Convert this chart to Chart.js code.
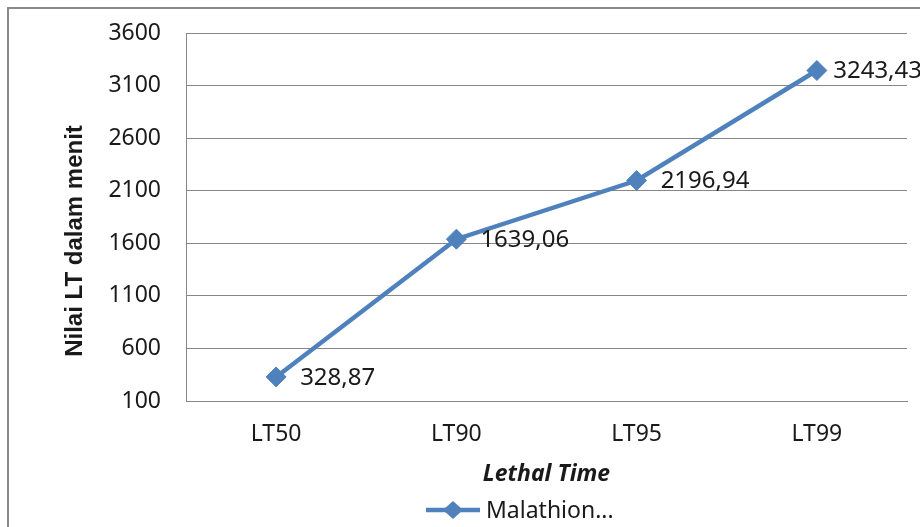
<!DOCTYPE html>
<html>
<head>
<meta charset="utf-8">
<script src="https://cdn.jsdelivr.net/npm/chart.js@4"></script>
<style>
  body { margin: 0; background: #fff; overflow: hidden; }
  #frame {
    position: absolute; left: 7px; top: 7px;
    width: 1000px; height: 600px;
    border: 2px solid #8a8a8a;
  }
  #wrap { position: absolute; left: 0; top: 0; width: 920px; height: 527px; }
</style>
</head>
<body>
<div id="frame"></div>
<div id="wrap"><canvas id="chart" width="920" height="527"></canvas></div>
<script>
// categories on the x axis:
const categories = ['LT50', 'LT90', 'LT95', 'LT99'];
// lethal time values in minutes:
const malathion = [328.87, 1639.06, 2196.94, 3243.43];
const seriesName = 'Malathion...';
const yTitle = 'Nilai LT dalam menit';

const blue = '#4F81BD';
const gridColor = '#878787';
const textColor = '#1a1a1a';

// write numbers with a decimal comma, like the original:
function commaNumber(v) {
  return v.toFixed(2).replace('.', ',');
}

// labels to the right of each point, kept inside the canvas:
const pointLabels = {
  id: 'pointLabels',
  afterDatasetsDraw(chart) {
    const ctx = chart.ctx;
    const meta = chart.getDatasetMeta(0);
    ctx.save();
    ctx.font = '24px "Noto Sans"';
    ctx.fillStyle = textColor;
    ctx.textAlign = 'left';
    ctx.textBaseline = 'middle';
    meta.data.forEach((pt, i) => {
      const txt = commaNumber(chart.data.datasets[0].data[i]);
      const w = ctx.measureText(txt).width;
      const x = Math.min(pt.x + 24, chart.width - w + 2);
      ctx.fillText(txt, x, pt.y + 1);
    });
    ctx.restore();
  }
};

// y title sits a bit below the middle of the axis in the original
const sideTitle = {
  id: 'sideTitle',
  afterDraw(chart) {
    const ctx = chart.ctx;
    ctx.save();
    ctx.translate(75, 241);
    ctx.rotate(-Math.PI / 2);
    ctx.font = 'bold 24px "Liberation Sans", Arial, sans-serif';
    ctx.fillStyle = textColor;
    ctx.textAlign = 'center';
    ctx.textBaseline = 'middle';
    ctx.fillText(yTitle, 0, 0);
    ctx.restore();
  }
};

// legend: a line with a diamond on it, then the series name
const lineLegend = {
  id: 'lineLegend',
  afterDraw(chart) {
    const ctx = chart.ctx;
    const ds = chart.data.datasets[0];
    const y = 510;
    ctx.save();
    ctx.strokeStyle = ds.borderColor;
    ctx.lineWidth = 4.5;
    ctx.beginPath();
    ctx.moveTo(426, y);
    ctx.lineTo(480, y);
    ctx.stroke();
    ctx.fillStyle = ds.borderColor;
    ctx.beginPath();
    ctx.moveTo(443, y);
    ctx.lineTo(453, y - 9);
    ctx.lineTo(463, y);
    ctx.lineTo(453, y + 9);
    ctx.closePath();
    ctx.fill();
    ctx.font = '23px "Noto Sans"';
    ctx.fillStyle = textColor;
    ctx.textAlign = 'left';
    ctx.textBaseline = 'middle';
    ctx.fillText(ds.label, 486, y + 1);
    ctx.restore();
  }
};

const config = {
  type: 'line',
  data: {
    labels: categories,
    datasets: [{
      label: seriesName,
      data: malathion,
      borderColor: blue,
      backgroundColor: blue,
      borderWidth: 4.5,
      pointStyle: 'rectRot',
      pointRadius: 10,
      pointHoverRadius: 10,
      pointBorderWidth: 1,
      tension: 0
    }]
  },
  options: {
    responsive: false,
    animation: false,
    layout: {
      autoPadding: false,
      padding: { left: 0, top: 33, right: 13, bottom: 37 }
    },
    plugins: {
      legend: { display: false },
      tooltip: { enabled: false }
    },
    scales: {
      x: {
        offset: true,
        grid: { display: false, drawTicks: false },
        border: { display: true, color: gridColor, width: 1 },
        ticks: {
          color: textColor,
          font: { family: 'Noto Sans', size: 23 },
          padding: 20
        },
        title: {
          display: true,
          text: 'Lethal Time',
          color: textColor,
          font: { family: 'Noto Sans', size: 23, style: 'italic', weight: 'bold' },
          padding: { top: 0, bottom: 2 }
        },
        afterFit(scale) { scale.height = 89; }
      },
      y: {
        min: 100,
        max: 3600,
        grid: { color: gridColor, lineWidth: 1, drawTicks: false },
        border: { display: true, color: gridColor, width: 1 },
        ticks: {
          stepSize: 500,
          color: textColor,
          font: { family: 'Noto Sans', size: 23 },
          padding: 25,
          callback: (v) => String(v)
        },
        afterFit(scale) {
          scale.width = 186;
          scale.paddingTop = 0;
          scale.paddingBottom = 0;
        }
      }
    }
  },
  plugins: [pointLabels, sideTitle, lineLegend]
};

const chart = new Chart(document.getElementById('chart'), config);
</script>
</body>
</html>
